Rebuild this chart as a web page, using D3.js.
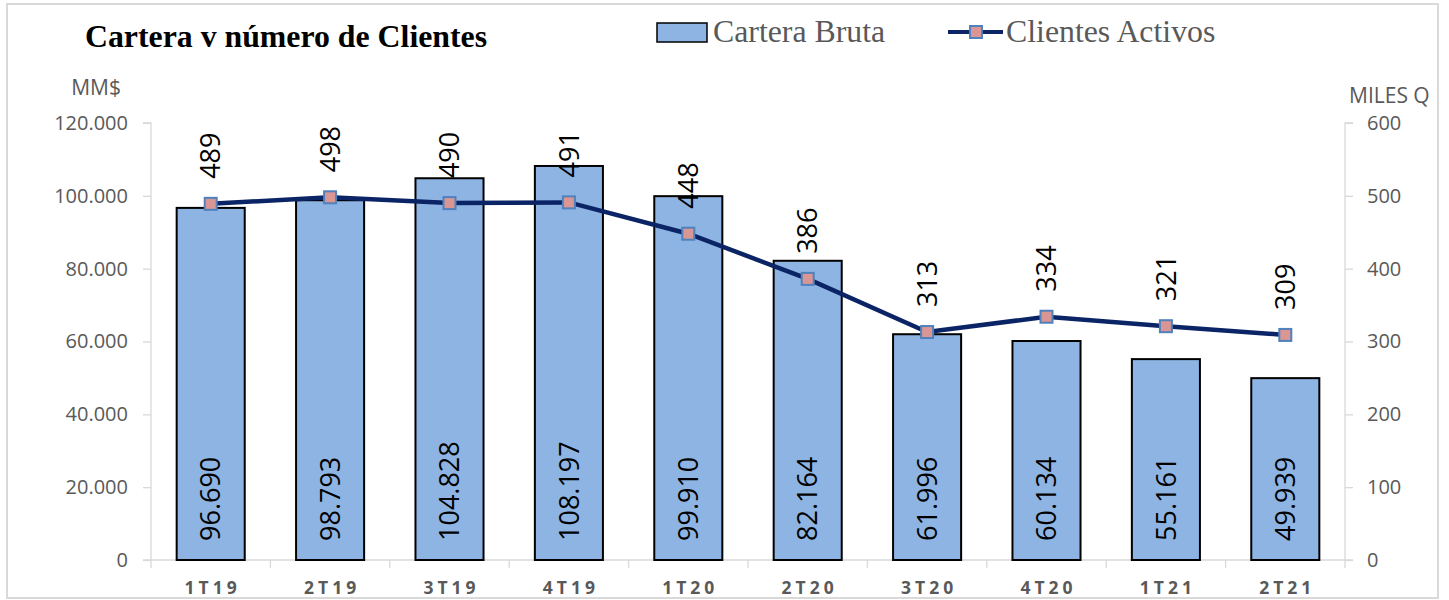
<!DOCTYPE html>
<html><head><meta charset="utf-8">
<script src="https://cdn.jsdelivr.net/npm/d3@7/dist/d3.min.js"></script>
<style>body{margin:0;background:#fff}svg{display:block}</style>
</head><body>
<svg id="c" width="1449" height="600"></svg>
<script>
const categories = ["1T19","2T19","3T19","4T19","1T20","2T20","3T20","4T20","1T21","2T21"];
const carteraBruta = [96690, 98793, 104828, 108197, 99910, 82164, 61996, 60134, 55161, 49939];
const clientesActivos = [489, 498, 490, 491, 448, 386, 313, 334, 321, 309];
const leftTicks = [0, 20000, 40000, 60000, 80000, 100000, 120000];
const rightTicks = [0, 100, 200, 300, 400, 500, 600];
const seriesNames = ["Cartera Bruta", "Clientes Activos"];
const titleText = "Cartera v número de Clientes";

const svg = d3.select("#c");
const L = 151, R = 1345, T = 123, B = 560;
const sansFont = "'Open Sans', 'Liberation Sans', sans-serif";
const serifFont = "'Liberation Serif', 'Times New Roman', serif";
const grey = "#595959", axisGrey = "#d9d9d9";

// frame
svg.append("rect").attr("x",7).attr("y",4).attr("width",1431).attr("height",594)
  .attr("fill","#fff").attr("stroke","#d9d9d9").attr("stroke-width",2);

const x = d3.scaleBand().domain(categories).range([L, R]).paddingInner(0.43).paddingOuter(0.215);
const yL = d3.scaleLinear().domain([0,120000]).range([B, T]);
const yR = d3.scaleLinear().domain([0,600]).range([B, T]);
const fmt = d3.formatLocale({decimal:",", thousands:".", grouping:[3], currency:["$",""]}).format(",.0f");

// left axis
const gL = svg.append("g").attr("transform",`translate(${L},0)`)
  .call(d3.axisLeft(yL).tickValues(leftTicks).tickFormat(fmt).tickSize(8).tickPadding(15));
gL.select(".domain").attr("stroke",axisGrey).attr("stroke-width",1.3).attr("d",`M-8,${T}H0V${B}`);
gL.selectAll(".tick line").attr("stroke",axisGrey).attr("stroke-width",1.3);
gL.selectAll(".tick text").attr("fill",grey).attr("font-family",sansFont).attr("font-size",20);

// right axis
const gR = svg.append("g").attr("transform",`translate(${R},0)`)
  .call(d3.axisRight(yR).tickValues(rightTicks).tickSize(8).tickPadding(14));
gR.select(".domain").attr("stroke",axisGrey).attr("stroke-width",1.3).attr("d",`M8,${T}H0V${B}`);
gR.selectAll(".tick line").attr("stroke",axisGrey).attr("stroke-width",1.3);
gR.selectAll(".tick text").attr("fill",grey).attr("font-family",sansFont).attr("font-size",20);

// x axis
const xBounds = d3.range(categories.length+1).map(i => L + i*x.step());
svg.append("line").attr("x1",L-8).attr("x2",R+8).attr("y1",B).attr("y2",B)
  .attr("stroke",axisGrey).attr("stroke-width",1.3);
svg.append("g").selectAll("line").data(xBounds).join("line")
  .attr("x1",d=>d).attr("x2",d=>d).attr("y1",B).attr("y2",B+8)
  .attr("stroke",axisGrey).attr("stroke-width",1.3);
svg.append("g").selectAll("text").data(categories).join("text")
  .attr("x",d=>x(d)+x.bandwidth()/2+2).attr("y",594)
  .attr("text-anchor","middle").attr("font-family",sansFont).attr("font-weight","bold")
  .attr("font-size",17.5).attr("letter-spacing","4px").attr("fill",grey).text(d=>d);

// axis titles
svg.append("text").attr("x",121).attr("y",95).attr("text-anchor","end")
  .attr("font-family",sansFont).attr("font-size",21).attr("fill",grey).text("MM$");
svg.append("text").attr("x",1349).attr("y",103)
  .attr("font-family",sansFont).attr("font-size",21).attr("fill",grey).text("MILES Q");

// bars
svg.append("g").selectAll("rect").data(carteraBruta).join("rect")
  .attr("x",(d,i)=>x(categories[i])).attr("y",d=>yL(d))
  .attr("width",x.bandwidth()).attr("height",d=>B-yL(d))
  .attr("fill","#8DB4E2").attr("stroke","#000").attr("stroke-width",2);

// bar labels
svg.append("g").selectAll("text").data(carteraBruta).join("text")
  .attr("transform",(d,i)=>`translate(${x(categories[i])+x.bandwidth()/2},${B-19}) rotate(-90)`)
  .attr("dy","0.36em").attr("font-family",sansFont).attr("font-size",27).attr("fill","#000")
  .text(d=>fmt(d));

// line
const cx = (i)=>x(categories[i])+x.bandwidth()/2;
svg.append("path").datum(clientesActivos)
  .attr("d",d3.line().x((d,i)=>cx(i)).y(d=>yR(d)))
  .attr("fill","none").attr("stroke","#0A2466").attr("stroke-width",4.5);
svg.append("g").selectAll("rect").data(clientesActivos).join("rect")
  .attr("x",(d,i)=>cx(i)-6).attr("y",d=>yR(d)-6).attr("width",12).attr("height",12)
  .attr("fill","#D99694").attr("stroke","#4F81BD").attr("stroke-width",2);
svg.append("g").selectAll("text").data(clientesActivos).join("text")
  .attr("transform",(d,i)=>`translate(${cx(i)},${yR(d)-25}) rotate(-90)`)
  .attr("dy","0.36em").attr("font-family",sansFont).attr("font-size",27).attr("fill","#000")
  .text(d=>d);

// title
svg.append("text").attr("x",85).attr("y",47).attr("font-family",serifFont)
  .attr("font-weight","bold").attr("font-size",31.8).attr("fill","#000").text(titleText);

// legend
svg.append("rect").attr("x",657).attr("y",23).attr("width",50).attr("height",19)
  .attr("fill","#8DB4E2").attr("stroke","#000").attr("stroke-width",1.5);
svg.append("text").attr("x",713).attr("y",42).attr("font-family",serifFont)
  .attr("font-size",31.8).attr("fill",grey).text(seriesNames[0]);
svg.append("line").attr("x1",948).attr("x2",1003).attr("y1",32).attr("y2",32)
  .attr("stroke","#0A2466").attr("stroke-width",4);
svg.append("rect").attr("x",970).attr("y",26).attr("width",12).attr("height",12)
  .attr("fill","#D99694").attr("stroke","#4F81BD").attr("stroke-width",2);
svg.append("text").attr("x",1006).attr("y",42).attr("font-family",serifFont)
  .attr("font-size",31.8).attr("fill",grey).text(seriesNames[1]);
</script>
</body></html>
